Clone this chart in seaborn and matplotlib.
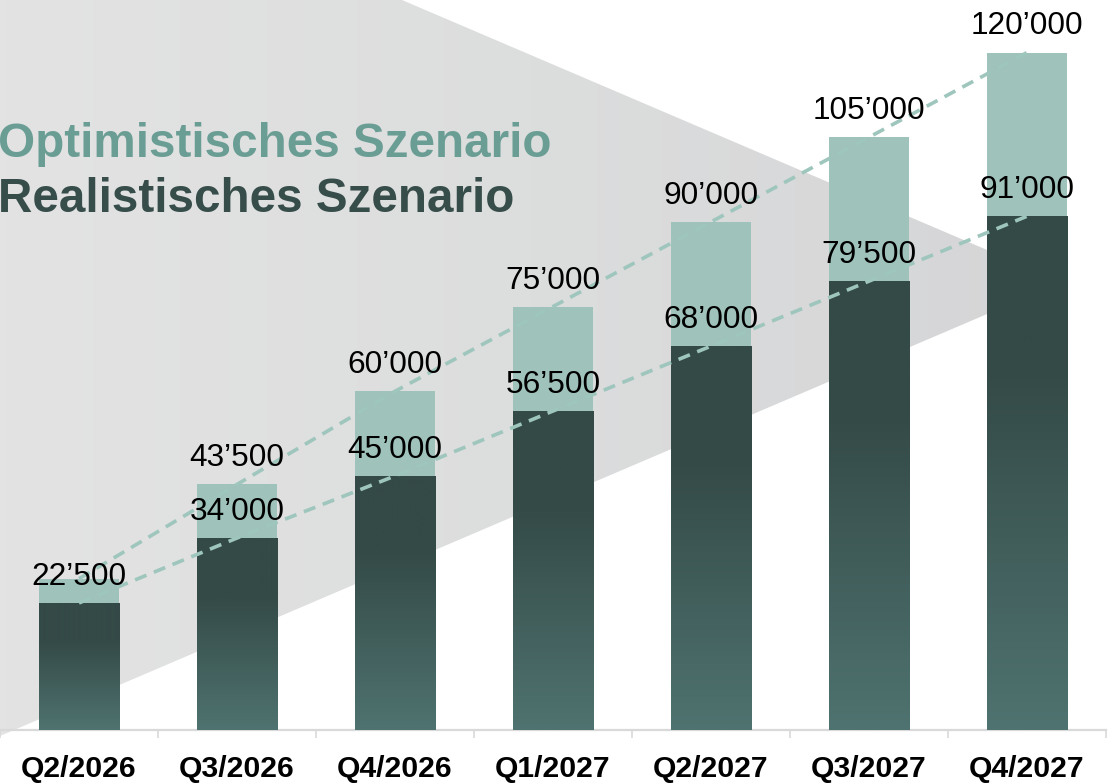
import numpy as np
import pandas as pd
import matplotlib
matplotlib.use('Agg')
import matplotlib.pyplot as plt
from matplotlib.patches import Polygon
from matplotlib.colors import LinearSegmentedColormap
import seaborn as sns

# ── data ───────────────────────────────────────────────────────────────────────
quarters = ['Q2/2026', 'Q3/2026', 'Q4/2026', 'Q1/2027', 'Q2/2027', 'Q3/2027', 'Q4/2027']
optimistic = [26800, 43500, 60000, 75000, 90000, 105000, 120000]
realistic = [22500, 34000, 45000, 56500, 68000, 79500, 91000]
show_opt_label = [False, True, True, True, True, True, True]

LIGHT = '#9fc2bb'
DASH = '#9ec6bc'
DARK_TOP = '#344a47'
DARK_BOT = '#4f7370'
OPT_TXT = '#6a9e95'
REAL_TXT = '#364d4a'

sns.set_theme(style='white')
plt.rcParams['font.family'] = ['Liberation Sans', 'DejaVu Sans']

W, H = 1119, 784
fig = plt.figure(figsize=(W / 100, H / 100), dpi=100)

# ── background triangle with soft horizontal gradient ─────────────────────────
bg = fig.add_axes([0, 0, 1, 1], zorder=0)
bg.set_xlim(0, W)
bg.set_ylim(H, 0)
bg.axis('off')
tri = Polygon([(0, 0), (402, 0), (1062, 282), (0, 736)], closed=True,
              facecolor='none', edgecolor='none')
bg.add_patch(tri)
grey = LinearSegmentedColormap.from_list('grey', ['#e3e3e3', '#dcdddd', '#d5d5d7'])
im = bg.imshow(np.linspace(0, 1, 256)[None, :], cmap=grey, aspect='auto',
               extent=(0, 1062, 736, 0), interpolation='bilinear')
im.set_clip_path(tri)

# ── main axes ──────────────────────────────────────────────────────────────────
ax = fig.add_axes([0, 54 / H, 1106 / W, 730 / H], zorder=1)
ax.patch.set_alpha(0)

df = pd.DataFrame({'quarter': quarters, 'optimistic': optimistic, 'realistic': realistic})
sns.barplot(data=df, x='quarter', y='optimistic', color=LIGHT, saturation=1,
            width=0.507, linewidth=0, edgecolor='none', ax=ax, zorder=2)
n_light = len(ax.patches)
sns.barplot(data=df, x='quarter', y='realistic', color=DARK_TOP, saturation=1,
            width=0.507, linewidth=0, edgecolor='none', ax=ax, zorder=3)
dark_patches = ax.patches[n_light:]

# vertical gradient inside each dark bar
dark_cmap = LinearSegmentedColormap.from_list(
    'dark', [(0, DARK_TOP), (0.3, DARK_TOP), (1, DARK_BOT)])
for p in dark_patches:
    x0, y0 = p.get_x(), p.get_y()
    w, h = p.get_width(), p.get_height()
    g = ax.imshow(np.linspace(0, 1, 256)[:, None], cmap=dark_cmap, aspect='auto',
                  extent=(x0, x0 + w, y0, y0 + h), origin='upper',
                  interpolation='bilinear', zorder=3.5)
    g.set_clip_path(p)

pos = np.arange(len(quarters))
sns.lineplot(x=pos, y=optimistic, color=DASH, lw=2.6, ax=ax, zorder=4,
             linestyle=(0, (3.4, 2.2)))
sns.lineplot(x=pos, y=realistic, color=DASH, lw=2.6, ax=ax, zorder=4,
             linestyle=(0, (3.4, 2.2)))

fmt = lambda v: f'{v:,}'.replace(',', '\u2019')
for i in range(len(quarters)):
    if show_opt_label[i]:
        ax.annotate(fmt(optimistic[i]), (i, optimistic[i]), xytext=(0, 13),
                    textcoords='offset points', ha='center', va='baseline',
                    fontsize=22.8, color='black', zorder=5)
    ax.annotate(fmt(realistic[i]), (i, realistic[i]), xytext=(0, 13),
                textcoords='offset points', ha='center', va='baseline',
                fontsize=22.8, color='black', zorder=5)

ax.set_xlim(-0.5, len(quarters) - 0.5)
ax.set_ylim(0, 129300)
ax.set_xlabel('')
ax.set_ylabel('')
ax.set_yticks([])
for s in ['top', 'right', 'left']:
    ax.spines[s].set_visible(False)
ax.spines['bottom'].set_color('#d9d9d9')
ax.spines['bottom'].set_linewidth(1.6)
ax.set_xticks(pos)
ax.set_xticklabels(quarters, fontsize=21.7, fontweight='bold', color='black')
ax.set_xticks(np.arange(-0.5, len(quarters)), minor=True)
ax.tick_params(axis='x', which='major', length=0, pad=18)
ax.tick_params(axis='x', which='minor', length=6, width=1.2, color='#d9d9d9',
               direction='out', bottom=True)

# ── scenario labels ────────────────────────────────────────────────────────────
fig.text(-2 / W, 1 - 157 / H, 'Optimistisches Szenario', fontsize=34.3,
         fontweight='bold', color=OPT_TXT, va='baseline', ha='left')
fig.text(-2 / W, 1 - 212 / H, 'Realistisches Szenario', fontsize=34.3,
         fontweight='bold', color=REAL_TXT, va='baseline', ha='left')

fig.savefig('out.png', dpi=100)
plt.close(fig)
